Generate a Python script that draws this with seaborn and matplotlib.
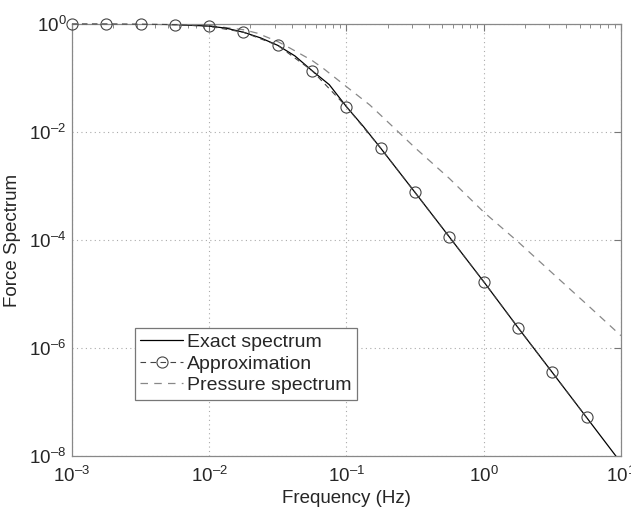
import numpy as np
import pandas as pd
import matplotlib
matplotlib.use("Agg")
import matplotlib.pyplot as plt
import matplotlib.ticker as mticker
import seaborn as sns

# ---- data (log10 of frequency in Hz) ----
exact_logf = [-3.0, -2.75, -2.5, -2.25, -2.0, -1.875, -1.75, -1.625, -1.5, -1.375,
              -1.25, -1.125, -1.0, -0.875, -0.75, -0.5, -0.25, 0.0, 0.25, 0.5, 0.75, 1.0]
exact_val = [1.0, 0.998, 0.99, 0.97, 0.91, 0.83, 0.70, 0.55, 0.40, 0.255,
             0.136, 0.075, 0.0294, 0.0125, 0.0050, 7.6e-4, 1.14e-4, 1.7e-5, 2.4e-6,
             3.55e-7, 5.2e-8, 7.6e-9]

approx_logf = [-3.0, -2.75, -2.5, -2.25, -2.0, -1.75, -1.5, -1.25, -1.0, -0.75,
               -0.5, -0.25, 0.0, 0.25, 0.5, 0.75]
approx_val = [1.0, 1.0, 0.99, 0.97, 0.90, 0.70, 0.40, 0.136, 0.0294, 0.0050,
              7.6e-4, 1.14e-4, 1.7e-5, 2.4e-6, 3.55e-7, 5.2e-8]

press_logf = [-3.0, -2.5, -2.0, -1.75, -1.65, -1.5, -1.41, -1.25, -1.17, -1.0,
              -0.83, -0.75, -0.5, -0.25, 0.0, 0.25, 0.5, 0.75, 1.0]
press_val = [1.0, 0.995, 0.93, 0.78, 0.673, 0.47, 0.355, 0.21, 0.151, 0.069,
             0.0316, 0.0204, 5.1e-3, 1.38e-3, 3.3e-4, 9.3e-5, 2.45e-5, 6.5e-6, 1.7e-6]

labels = ["Exact spectrum", "Approximation", "Pressure spectrum"]
xlabel = "Frequency (Hz)"
ylabel = "Force Spectrum"

df_exact = pd.DataFrame({"f": 10 ** np.array(exact_logf), "S": exact_val})
df_approx = pd.DataFrame({"f": 10 ** np.array(approx_logf), "S": approx_val})
df_press = pd.DataFrame({"f": 10 ** np.array(press_logf), "S": press_val})

sns.set_style("white")
plt.rcParams["font.family"] = ["Liberation Sans", "DejaVu Sans"]
plt.rcParams["mathtext.fontset"] = "custom"
plt.rcParams["mathtext.rm"] = "Liberation Sans"
plt.rcParams["mathtext.it"] = "Liberation Sans"

fig = plt.figure(figsize=(6.31, 5.08), dpi=100)
ax = fig.add_axes([0.114, 0.102, 0.870, 0.851])

sns.lineplot(data=df_press, x="f", y="S", ax=ax, color="#555555", lw=0.9,
             linestyle=(0, (6, 5)), label=labels[2], sort=True)
sns.lineplot(data=df_exact, x="f", y="S", ax=ax, color="black", lw=0.9,
             label=labels[0], sort=True)
sns.lineplot(data=df_approx, x="f", y="S", ax=ax, color="#444444", lw=0.8,
             linestyle=(0, (5, 4)), marker="o", markersize=8, markerfacecolor="none",
             markeredgecolor="#444444", markeredgewidth=0.8, label=labels[1], sort=True,
             clip_on=False, zorder=5)

ax.set_xscale("log")
ax.set_yscale("log")
ax.set_xlim(1e-3, 10)
ax.set_ylim(1e-8, 1)


def pow_fmt(v, pos):
    e = int(round(np.log10(v)))
    s = str(e).replace("-", "\u2013")
    return "$10^{%s}$" % s


ax.xaxis.set_major_locator(mticker.LogLocator(base=10, numticks=10))
ax.xaxis.set_minor_locator(mticker.LogLocator(base=10, subs=np.arange(2, 10), numticks=20))
ax.xaxis.set_minor_formatter(mticker.NullFormatter())
ax.yaxis.set_major_locator(mticker.FixedLocator([1e-8, 1e-6, 1e-4, 1e-2, 1]))
ax.yaxis.set_minor_locator(mticker.NullLocator())
ax.xaxis.set_major_formatter(mticker.FuncFormatter(pow_fmt))
ax.yaxis.set_major_formatter(mticker.FuncFormatter(pow_fmt))

ax.tick_params(which="both", direction="in", top=True, right=True, color="#777777",
               labelsize=13.5)
ax.tick_params(axis="x", pad=7)
ax.tick_params(axis="y", pad=4)
ax.tick_params(which="major", length=5)
ax.tick_params(which="minor", length=3)
for s in ax.spines.values():
    s.set_color("#888888")
    s.set_linewidth(0.9)

ax.grid(True, which="major", linestyle=(0, (1, 3)), color="#aaaaaa", lw=0.8)

ax.set_xlabel(xlabel, fontsize=13.5, labelpad=3)
ax.set_ylabel(ylabel, fontsize=13.5)
ax.yaxis.set_label_coords(-0.092, 0.5)

h, l = ax.get_legend_handles_labels()
order = [l.index(labels[0]), l.index(labels[1]), l.index(labels[2])]
h = [h[i] for i in order]
l = [l[i] for i in order]
h[2].set_color("#888888")
leg = ax.legend(h, l, loc="lower left", bbox_to_anchor=(0.114, 0.13), fontsize=14,
                frameon=True, fancybox=False, framealpha=1, edgecolor="#777777",
                handlelength=2.2, handletextpad=0.2, borderpad=0.3, labelspacing=0.2,
                borderaxespad=0)
leg.get_frame().set_linewidth(0.9)

fig.savefig("out.png", dpi=100)
